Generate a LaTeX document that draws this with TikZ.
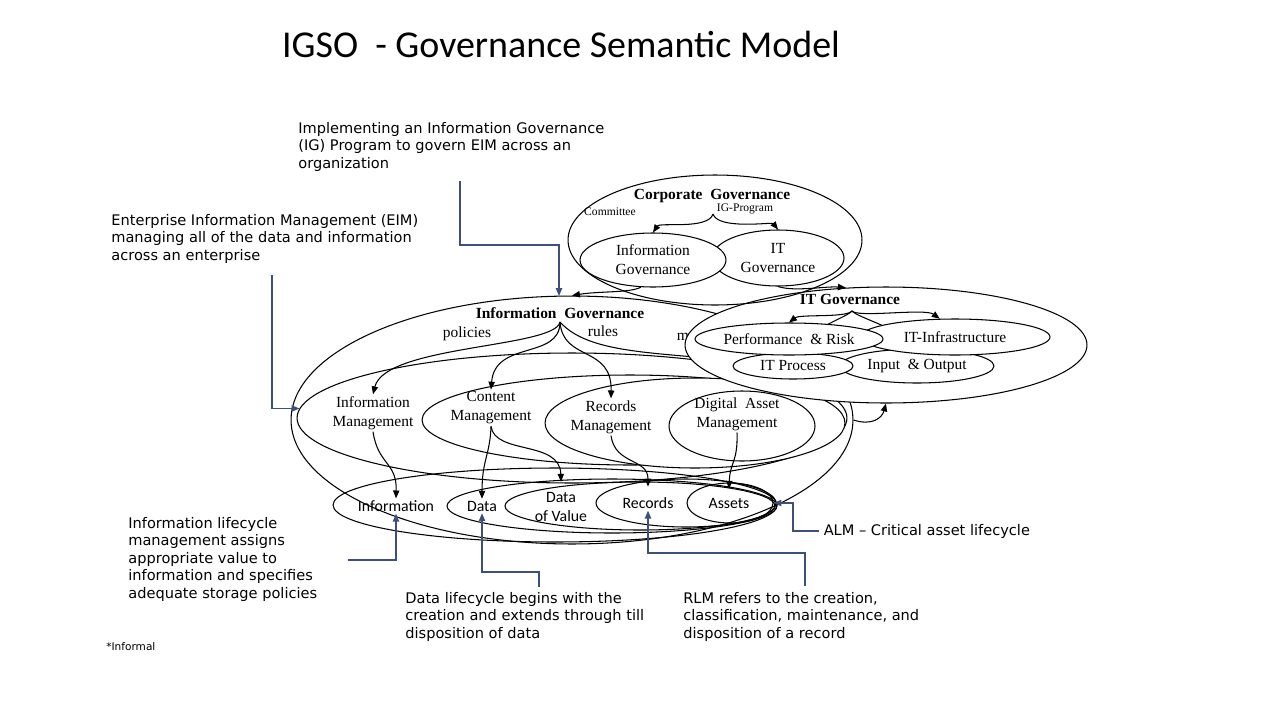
\documentclass[tikz,border=0pt]{standalone}
\usepackage{fontspec}
\setmainfont{Liberation Serif}
\newfontfamily\notefont{DejaVu Sans}
\newfontfamily\titlefont{Carlito}
\usetikzlibrary{shapes.geometric, arrows.meta, positioning}
\definecolor{callblue}{RGB}{59, 80, 122}

\begin{document}
\begin{tikzpicture}[x=0.02cm, y=-0.02cm,
    ell/.style={draw, ellipse, inner sep=0pt, line width=0.6pt},
    lbl/.style={font=\fontsize{8.8}{10.8}\selectfont, align=center, inner sep=1pt},
    head/.style={font=\fontsize{8.8}{10.8}\selectfont\bfseries, inner sep=1pt},
    tiny/.style={font=\fontsize{6.6}{8}\selectfont, inner sep=1pt},
    sans/.style={font=\titlefont\fontsize{9}{10.5}\selectfont, align=center, inner sep=1pt},
    note/.style={font=\notefont\fontsize{8.3}{9.96}\selectfont, align=left, inner sep=0pt, anchor=north west},
    arrow/.style={-{Triangle[length=4.5pt, width=3.6pt]}, line width=0.6pt},
    callout/.style={-{Triangle[length=4.5pt, width=3.6pt]}, callblue, line width=0.7pt}
]
\useasboundingbox (0,0) rectangle (1280,720);

\node[font=\titlefont\fontsize{21.6}{25}\selectfont] (title) at (561,44) {IGSO\ \ - Governance Semantic Model};

% information governance and EIM
\node[ell, minimum width=11.24cm, minimum height=4.96cm] (igouter) at (572,420) {};
\node[ell, minimum width=11cm, minimum height=2.6cm] (eim) at (572,418) {};
\node[ell, minimum width=8.32cm, minimum height=1.8cm] (cmell) at (630,420) {};
\node[ell, fill=white, minimum width=6cm, minimum height=1.8cm] (rmell) at (695,423) {};
\node[ell, fill=white, minimum width=2.92cm, minimum height=1.4cm] (damell) at (742,426) {};

% lifecycle ellipses
\node[ell, minimum width=8.88cm, minimum height=1.48cm] (infoell) at (555,505) {};
\node[ell, minimum width=6.6cm, minimum height=1.08cm] (dataell) at (612,506) {};
\node[ell, minimum width=5.4cm, minimum height=0.96cm] (dovell) at (640,506) {};
\node[ell, minimum width=3.6cm, minimum height=0.96cm] (recell) at (686,503) {};
\node[ell, minimum width=1.72cm, minimum height=0.8cm] (assetell) at (730,503) {};

\node[head] (igtitle) at (560,313) {Information\ \ Governance};
\node[lbl] (policies) at (467,334) {policies};
\node[lbl] (rules) at (603,331) {rules};
\node[lbl] (mgmt) at (683,337) {m};
\node[lbl] (imtext) at (373,413) {Information\\Management};
\node[lbl] (cmtext) at (491,408) {Content\\Management};
\node[lbl] (rmtext) at (611,417) {Records\\Management};
\node[lbl] (damtext) at (737,414) {Digital\ \ Asset\\Management};
\node[sans] (infolab) at (396,506) {Information};
\node[sans] (datalab) at (482,506) {Data};
\node[sans] (dovlab) at (561,507) {Data\\of Value};
\node[sans] (reclab) at (648,503) {Records};
\node[sans] (assetlab) at (729,503) {Assets};

\coordinate (igfan) at (560,322);
\coordinate (mgmtend) at (706,358);
\draw[line width=0.6pt] (igfan) .. controls (585,350) and (640,352) .. (mgmtend);
\draw[arrow] (igfan) .. controls (555,348) and (385,345) .. (imtext.north);
\draw[arrow] (igfan) .. controls (560,360) and (495,340) .. (cmtext.north);
\draw[arrow] (igfan) .. controls (563,362) and (612,345) .. (rmtext.north);

\draw[arrow] (imtext.south) .. controls (378,465) and (397,462) .. (infolab.north);
\draw[arrow] (cmtext.south) .. controls (490,455) and (482,460) .. (datalab.north);
\draw[arrow] (cmtext.south) .. controls (495,455) and (560,440) .. ([yshift=5pt]dovlab.north);
\draw[arrow] (rmtext.south) .. controls (615,465) and (648,458) .. ([yshift=5pt]reclab.north);
\draw[arrow] (damtext.south) .. controls (738,462) and (730,462) .. ([yshift=4pt]assetlab.north);

% IT governance
\node[ell, fill=white, minimum width=8.04cm, minimum height=2.32cm] (itgov) at (886,345) {};
\node[head] (ittitle) at (850,299) {IT Governance};
\coordinate (itfan) at (852,311);
\node[lbl, ell, fill=white, minimum width=3.08cm, minimum height=0.68cm] (io) at (917,366) {Input\ \ \&\ Output};
\node[lbl, ell, fill=white, minimum width=2.4cm, minimum height=0.52cm] (itproc) at (793,366) {IT Process};
\draw[line width=0.6pt] (itfan) .. controls (846,318) and (805,330) .. (itproc.north);
\draw[line width=0.6pt] (itfan) .. controls (858,318) and (905,330) .. (io.north);
\node[lbl, ell, fill=white, minimum width=3.8cm, minimum height=0.72cm] (infra) at (955,337) {IT-Infrastructure};
\node[lbl, ell, fill=white, minimum width=3.76cm, minimum height=0.64cm] (perf) at (789,339) {Performance\ \ \&\ Risk};
\draw[arrow] (itfan) .. controls (846,318) and (800,314) .. (perf.north);
\draw[arrow] (itfan) .. controls (858,318) and (925,308) .. (infra.130);
\draw[arrow] (igouter.east) .. controls (872,426) and (882,418) .. (itgov.south);

% corporate governance
\node[ell, minimum width=5.88cm, minimum height=2.6cm] (corp) at (715,240) {};
\node[head] (corptitle) at (712,196) {Corporate\ \ Governance};
\node[tiny] (committee) at (610,212) {Committee};
\node[tiny] (igprog) at (745,209) {IG-Program};
\node[lbl, ell, minimum width=2.64cm, minimum height=1.12cm] (itsmall) at (778,258) {IT\\Governance};
\node[lbl, ell, fill=white, minimum width=2.92cm, minimum height=1.08cm] (igsmall) at (653,260) {Information\\Governance};
\coordinate (igfork) at (713,214);
\draw[arrow] (igfork) .. controls (708,230) and (660,222) .. (igsmall.north);
\draw[arrow] (igfork) .. controls (718,230) and (772,222) .. (itsmall.north);
\draw[arrow] (igsmall.-114) .. controls (630,293) and (600,291) .. (igouter.north);
\draw[arrow] (itsmall.south) .. controls (795,292) and (825,286) .. (itgov.125);

% callouts
\node[note] (implnote) at (298,122) {Implementing an Information Governance\\(IG) Program to govern EIM across an\\organization};
\coordinate (implfoot) at (460,181);
\coordinate (igtip) at (559,296);
\draw[callout] (implfoot) |- (559,245) -- (igtip);

\node[note] (eimnote) at (111,214) {Enterprise Information Management (EIM)\\managing all of the data and information\\across an enterprise};
\coordinate (eimfoot) at (272,275);
\draw[callout] (eimfoot) |- (eim.178);

\node[note] (ilmnote) at (128,517) {Information lifecycle\\management assigns\\appropriate value to\\information and specifies\\adequate storage policies};
\coordinate (ilmfoot) at (348,560);
\draw[callout] (ilmfoot) -| (infolab.south);

\node[note] (datanote) at (405,592) {Data lifecycle begins with the\\creation and extends through till\\disposition of data};
\coordinate (datafoot) at (539,587);
\draw[callout] (datafoot) -- (539,572) -| (datalab.south);

\node[note] (rlmnote) at (683,592) {RLM refers to the creation,\\classification, maintenance, and\\disposition of a record};
\coordinate (rlmfoot) at (805,586);
\draw[callout] (rlmfoot) -- (805,553) -| (reclab.south);

\node[note, anchor=west, inner sep=2.5pt] (almnote) at (819,531) {ALM – Critical asset lifecycle};
\draw[callout] (almnote.west) -- (793,531) |- (assetell.east);

\node[font=\notefont\fontsize{6}{7}\selectfont, anchor=west, inner sep=0pt] (informal) at (106,647) {*Informal};
\end{tikzpicture}
\end{document}
